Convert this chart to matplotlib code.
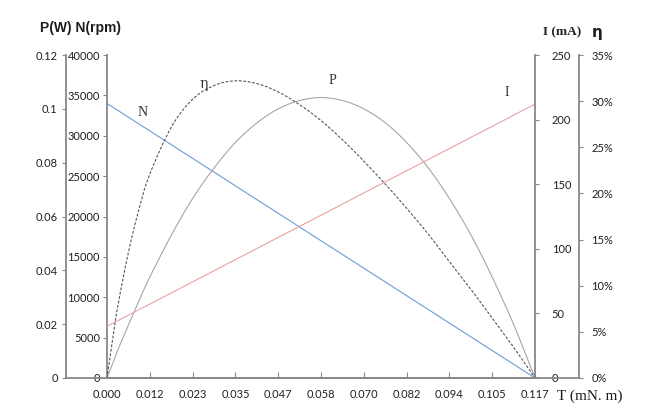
import numpy as np
import matplotlib.pyplot as plt
from matplotlib.lines import Line2D

plt.rcParams['font.family'] = ['Lato', 'DejaVu Sans']

# 数据
torque = [0.0, 0.0012, 0.0029, 0.0059, 0.0088, 0.0117, 0.0176, 0.0234, 0.0293, 0.0351,
          0.0410, 0.0468, 0.0527, 0.0585, 0.0644, 0.0702, 0.0761, 0.0819, 0.0878,
          0.0936, 0.0995, 0.1053, 0.1112, 0.117]
power_w = [0.0, 0.0041, 0.0102, 0.0198, 0.0289, 0.0375, 0.0531, 0.0667, 0.0781, 0.0875,
           0.0948, 0.1000, 0.1031, 0.1042, 0.1031, 0.1000, 0.0948, 0.0875, 0.0781,
           0.0667, 0.0531, 0.0375, 0.0198, 0.0]
eff = [0.0, 0.033, 0.077, 0.137, 0.184, 0.221, 0.272, 0.302, 0.317, 0.322,
       0.319, 0.310, 0.296, 0.279, 0.258, 0.235, 0.210, 0.184, 0.156,
       0.126, 0.096, 0.065, 0.033, 0.0]
torque_ends = [0.0, 0.117]
speed_rpm = [34000, 0]
current_ma = [40, 212]

xticks = [0.0, 0.0117, 0.0234, 0.0351, 0.0468, 0.0585, 0.0702, 0.0819, 0.0936, 0.1053, 0.117]
xtick_labels = ['0.000', '0.012', '0.023', '0.035', '0.047', '0.058',
                '0.070', '0.082', '0.094', '0.105', '0.117']

spine_c = '#888888'
txt_c = '#1f1f1f'


def smooth(x, y, n=16):
    # 类似 Excel 平滑线：Catmull-Rom 曲线穿过各数据点
    p = np.column_stack([x, y]).astype(float)
    p = np.vstack([2 * p[0] - p[1], p, 2 * p[-1] - p[-2]])
    s = np.linspace(0, 1, n, endpoint=False)[:, None]
    out = []
    for i in range(1, len(p) - 2):
        p0, p1, p2, p3 = p[i - 1], p[i], p[i + 1], p[i + 2]
        out.append(0.5 * (2 * p1 + (-p0 + p2) * s
                          + (2 * p0 - 5 * p1 + 4 * p2 - p3) * s ** 2
                          + (-p0 + 3 * p1 - 3 * p2 + p3) * s ** 3))
    out.append(p[-2][None, :])
    out = np.vstack(out)
    return out[:, 0], out[:, 1]


fig = plt.figure(figsize=(6.45, 4.12), dpi=100)
ax = fig.add_axes([107 / 645, 1 - 378 / 412, 428 / 645, 323 / 412])
axP = ax.twinx()
axI = ax.twinx()
axE = ax.twinx()

# N 轴（主轴）
ax.set_xlim(0, 0.117)
ax.set_ylim(0, 40000)
ax.set_yticks(np.arange(0, 40001, 5000))
ax.set_xticks(xticks)
ax.set_xticklabels(xtick_labels)
ax.plot(torque_ends, speed_rpm, color='#6f9bd6', lw=0.8)

# P 轴
axP.set_ylim(0, 0.12)
axP.set_yticks([0, 0.02, 0.04, 0.06, 0.08, 0.1, 0.12])
axP.set_yticklabels(['0', '0.02', '0.04', '0.06', '0.08', '0.1', '0.12'])
axP.yaxis.set_ticks_position('left')
axP.yaxis.set_label_position('left')
axP.spines['left'].set_position(('axes', -41 / 428))
px, py = smooth(torque, power_w)
axP.plot(px, py, color='#a6a6a6', lw=0.8)

# I 轴
axI.set_ylim(0, 250)
axI.set_yticks(np.arange(0, 251, 50))
axI.plot(torque_ends, current_ma, color='#e8a3a3', lw=0.8)

# η 轴
axE.set_ylim(0, 0.35)
axE.set_yticks(np.arange(0, 0.351, 0.05))
axE.set_yticklabels(['%d%%' % v for v in range(0, 36, 5)])
axE.spines['right'].set_position(('axes', 1 + 44 / 428))
ex, ey = smooth(torque, eff)
axE.plot(ex, ey, color='#555555', lw=0.8, ls=(0, (2.5, 1.5)))

for a in (ax, axP, axI, axE):
    for s in a.spines.values():
        s.set_visible(False)
    a.tick_params(colors=spine_c, labelcolor=txt_c, labelsize=8, length=3, width=0.8)
for s in (ax.spines['left'], ax.spines['bottom'], axP.spines['left'],
          axI.spines['right'], axE.spines['right']):
    s.set_visible(True)
    s.set_color(spine_c)
    s.set_linewidth(1.3)
ax.tick_params(axis='x', direction='in', length=4, pad=8)
ax.tick_params(axis='y', pad=2)
axP.tick_params(axis='y', pad=3)
axI.tick_params(axis='y', pad=9)
axE.tick_params(axis='y', pad=6)

# 底边延长线
fig.add_artist(Line2D([66 / 645, 579 / 645], [1 - 378 / 412] * 2, color=spine_c, lw=1.3))

# 文字
fig.text(40 / 645, 1 - 28 / 412, 'P(W) N(rpm)', fontsize=10, fontweight='bold',
         color=txt_c, va='center', family=['Liberation Sans'])
fig.text(543 / 645, 1 - 32 / 412, 'I (mA)', fontsize=9.5, fontweight='bold',
         color=txt_c, va='center', family=['Liberation Serif'])
fig.text(592 / 645, 1 - 33 / 412, 'η', fontsize=11, fontweight='bold',
         color=txt_c, va='center', family=['DejaVu Sans'])
fig.text(557 / 645, 1 - 396 / 412, 'T (mN. m)', fontsize=11,
         color=txt_c, va='center', family=['Liberation Serif'])

fig.text(143 / 645, 1 - 112 / 412, 'N', fontsize=10, color='#333333',
         ha='center', va='center', family=['Liberation Serif'])
fig.text(204 / 645, 1 - 84 / 412, 'η', fontsize=10, color='#333333',
         ha='center', va='center', family=['DejaVu Serif'])
fig.text(332 / 645, 1 - 80 / 412, 'P', fontsize=10, color='#333333',
         ha='center', va='center', family=['Liberation Serif'])
fig.text(507 / 645, 1 - 92 / 412, 'I', fontsize=10, color='#333333',
         ha='center', va='center', family=['Liberation Serif'])

plt.savefig('out.png', dpi=100)
